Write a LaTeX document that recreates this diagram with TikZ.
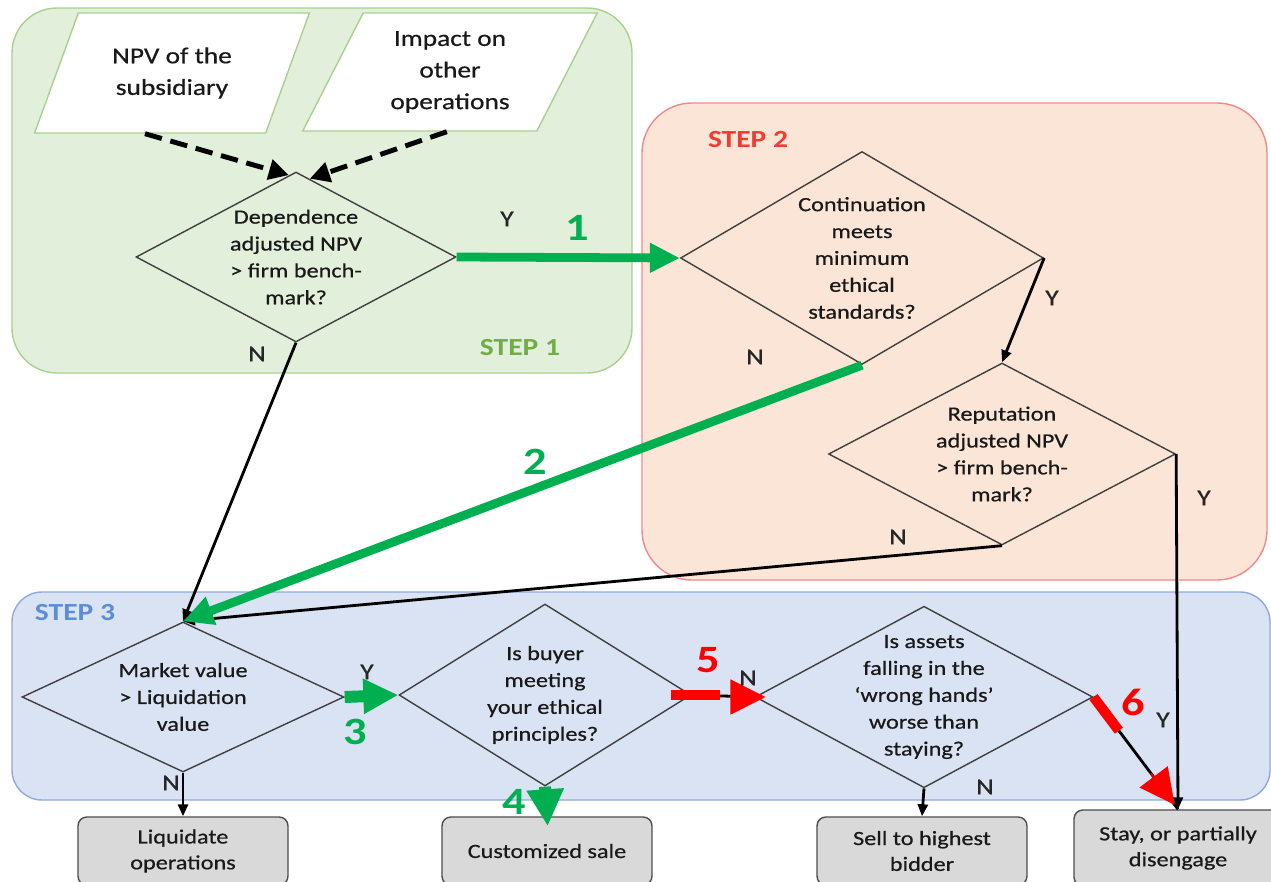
\documentclass[tikz,border=0pt]{standalone}
\usepackage{fontspec}
\setmainfont{Carlito}[FakeStretch=1.2, UprightFeatures={FakeBold=0.6}]
\usetikzlibrary{arrows.meta, calc, shapes.geometric}
\definecolor{stepOneFill}{HTML}{E2EFDA}
\definecolor{stepOneLine}{HTML}{A9D18E}
\definecolor{stepOneText}{HTML}{70AD47}
\definecolor{stepTwoFill}{HTML}{FBE5D6}
\definecolor{stepTwoLine}{HTML}{F08A8A}
\definecolor{stepTwoText}{HTML}{F03C32}
\definecolor{stepThreeFill}{HTML}{DAE3F3}
\definecolor{stepThreeLine}{HTML}{8FAADC}
\definecolor{stepThreeText}{HTML}{5B8ED6}
\definecolor{arrGreen}{HTML}{00B050}
\definecolor{arrRed}{HTML}{FF0000}
\tikzset{
  stepbox/.style={line width=0.8pt},
  decision/.style={draw=black!75, line width=0.8pt, diamond, align=center,
                   inner sep=0pt, text=black!90,
                   font=\fontsize{11.5}{15.3}\selectfont},
  inputbox/.style={draw=stepOneLine, fill=white, line width=0.8pt, trapezium,
                   trapezium left angle=64, trapezium right angle=116,
                   trapezium stretches=true, align=center, text=black!90,
                   font=\fontsize{13}{18}\selectfont},
  endbox/.style={draw=black!70, fill=gray!30, rounded corners=5pt,
                 line width=0.8pt, align=center, minimum width=4.2cm,
                 text=black!90, font=\fontsize{11.5}{14.7}\selectfont},
  flow/.style={black, line width=1.6pt, -{Triangle[length=0.24cm, width=0.2cm]}},
  hint/.style={black, line width=2.8pt, dash pattern=on 10pt off 5pt,
               -{Triangle[length=0.4cm, width=0.4cm]}},
  greenflow/.style={arrGreen, line width=5pt, -{Triangle[length=0.6cm, width=0.56cm]}},
  redbar/.style={arrRed, line width=5.7pt},
  redhead/.style={arrRed, line width=1pt, -{Triangle[length=0.7cm, width=0.7cm]}},
  yn/.style={text=black!85, font=\fontsize{13}{13}\selectfont},
  stepnum/.style={font=\bfseries\fontsize{22}{22}\selectfont},
  steplabel/.style={font=\bfseries\fontsize{14}{14}\selectfont},
}
\begin{document}
\begin{tikzpicture}[x=0.02cm, y=-0.02cm]
  \useasboundingbox (0,0) rectangle (1271,882);
  % ================= step areas =================
  \draw[stepbox, fill=stepOneFill, draw=stepOneLine, rounded corners=0.9cm]
    (12,8) rectangle (632,373);
  \draw[stepbox, fill=stepTwoFill, draw=stepTwoLine, rounded corners=1cm]
    (642,103) rectangle (1267,580);
  \draw[stepbox, fill=stepThreeFill, draw=stepThreeLine, rounded corners=0.6cm]
    (12,592) rectangle (1270,800);
  \node[steplabel, text=stepOneText] (s1) at (520,348) {STEP 1};
  \node[steplabel, text=stepTwoText] (s2) at (748,140) {STEP 2};
  \node[steplabel, text=stepThreeText] (s3) at (75,613) {STEP 3};
  % ================= inputs and decisions =================
  \node[inputbox, minimum width=5.5cm, minimum height=2.4cm] (npv) at (172,73)
    {NPV of the\\subsidiary};
  \node[inputbox, minimum width=5.9cm, minimum height=2.36cm] (impact) at (450,72)
    {Impact on\\other\\operations};
  \node[decision, minimum width=6.4cm, minimum height=3.4cm, aspect=1.88,
        inner sep=-0.5pt] (dep) at (296,257)
    {Dependence\\adjusted NPV\\> firm bench-\\mark?};
  \node[decision, minimum width=7.26cm, minimum height=4.26cm, aspect=1.7]
    (ethic) at (862,258) {Continuation\\meets\\minimum\\ethical\\standards?};
  \node[decision, minimum width=6.94cm, minimum height=3.64cm, aspect=1.9]
    (repu) at (1002,454) {Reputation\\adjusted NPV\\> firm bench-\\mark?};
  \node[decision, minimum width=6.44cm, minimum height=3.0cm, aspect=2.15]
    (market) at (183,697) {Market value\\> Liquidation\\value};
  \node[decision, minimum width=5.84cm, minimum height=3.64cm, aspect=1.6]
    (buyer) at (545,695) {Is buyer\\meeting\\your ethical\\principles?};
  \node[decision, minimum width=6.7cm, minimum height=3.6cm, aspect=1.86,
        inner sep=-3.2pt] (hands) at (924,697)
    {Is assets\\falling in the\\‘wrong hands’\\worse than\\staying?};
  % ================= outcomes =================
  \node[endbox, minimum height=1.36cm] (liq) at (183,851) {Liquidate\\operations};
  \node[endbox, minimum height=1.36cm] (custom) at (547,851) {Customized sale};
  \node[endbox, minimum height=1.36cm] (sell) at (922,851) {Sell to highest\\bidder};
  \node[endbox, minimum width=4.16cm, minimum height=1.52cm] (stay) at (1178,848)
    {Stay, or partially\\disengage};
  % ================= connectors =================
  \draw[hint] (npv.-114) -- (dep.95);
  \draw[hint] (impact.-93) -- (dep.80);
  \draw[flow] (dep.south) -- (market.north);
  \draw[flow] (ethic.east) -- (repu.north);
  \draw[flow] (repu.south) -- (market.north);
  \draw[flow] (repu.east) -- (stay.north);
  \draw[flow] (market.south) -- (liq.north);
  \draw[flow] (hands.south) -- (sell.north);
  \draw[black, line width=1.6pt] (buyer.east) -- (hands.west);
  \draw[black, line width=1.6pt] (hands.east) -- (stay.north);
  % highlighted path
  \draw[greenflow] (dep.east) -- (ethic.west);
  \draw[greenflow] (ethic.south) -- (market.north);
  \draw[greenflow, line width=6.8pt, -{Triangle[length=0.7cm, width=0.66cm]}]
    (market.east) -- (buyer.west);
  \draw[greenflow, line width=6.8pt, -{Triangle[length=0.74cm, width=0.7cm]},
        shorten >=-0.2cm] (buyer.south) -- (custom.north);
  \draw[redbar] ($(buyer.east)+(-21,0)$) -- ($(buyer.east)+(28,0)$);
  \draw[redhead] ($(hands.west)+(-24,0)$) -- ($(hands.west)+(11,0)$);
  \draw[redbar] (hands.east) -- ($(hands.east)!0.3!(stay.north)$);
  \draw[redhead] ($(hands.east)!0.68!(stay.north)$) -- ($(hands.east)!0.96!(stay.north)$);
  % ================= labels =================
  \node[yn] (dY) at (507,219) {Y};
  \node[yn] (dN) at (257,354) {N};
  \node[yn] (eY) at (1052,298) {Y};
  \node[yn] (eN) at (755,357) {N};
  \node[yn] (rY) at (1204,498) {Y};
  \node[yn] (rN) at (898,537) {N};
  \node[yn] (mY) at (367,672) {Y};
  \node[yn] (mN) at (171,783) {N};
  \node[yn] (hN) at (748,678) {N};
  \node[yn] (hY) at (1163,720) {Y};
  \node[yn] (hM) at (985,787) {N};
  \node[stepnum, text=arrGreen] (num1) at (577,228) {1};
  \node[stepnum, text=arrGreen] (num2) at (535,462) {2};
  \node[stepnum, text=arrGreen] (num3) at (355,732) {3};
  \node[stepnum, text=arrGreen] (num4) at (514,802) {4};
  \node[stepnum, text=arrRed] (num5) at (708,660) {5};
  \node[stepnum, text=arrRed] (num6) at (1133,702) {6};
\end{tikzpicture}
\end{document}
